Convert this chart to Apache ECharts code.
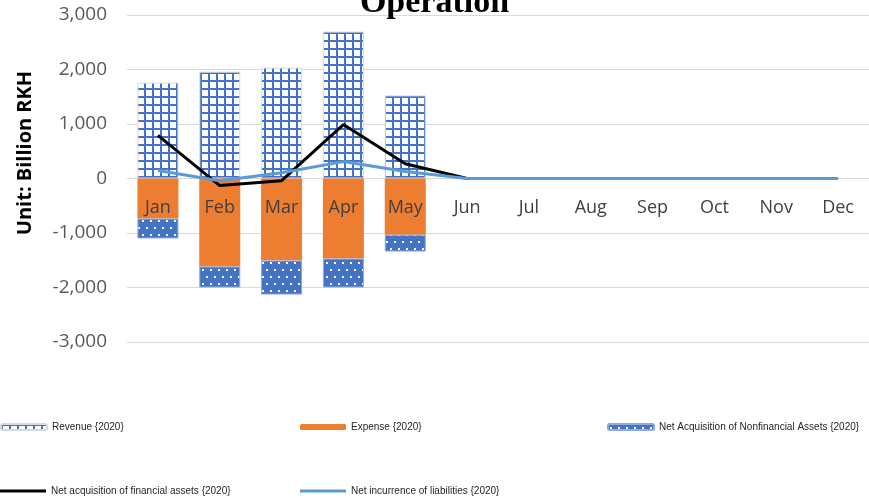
<!DOCTYPE html>
<html>
<head>
<meta charset="utf-8">
<script src="https://cdn.jsdelivr.net/npm/echarts@6/dist/echarts.min.js"></script>
<style>
  html, body { margin: 0; padding: 0; background: #fff; }
  #main { width: 869px; height: 498px; }
</style>
</head>
<body>
<div id="main"></div>
<script>
var months = ['Jan', 'Feb', 'Mar', 'Apr', 'May', 'Jun', 'Jul', 'Aug', 'Sep', 'Oct', 'Nov', 'Dec'];
var revenue = [1760, 1960, 2035, 2695, 1525, null, null, null, null, null, null, null];
var expense = [-735, -1615, -1505, -1470, -1030, null, null, null, null, null, null, null];
var nonFinancial = [-365, -385, -625, -530, -310, null, null, null, null, null, null, null];
var financialAssets = [790, -130, -40, 990, 270, 0, 0, 0, 0, 0, 0, 0];
var liabilities = [145, -40, 105, 310, 130, 0, 0, 0, 0, 0, 0, 0];
var yTicks = [-3000, 3000, 1000]; // min, max, step

// patterns like the excel fills
function gridPattern() {
    var c = document.createElement('canvas');
    c.width = 8; c.height = 8;
    var ctx = c.getContext('2d');
    ctx.fillStyle = '#fff';
    ctx.fillRect(0, 0, 8, 8);
    ctx.fillStyle = '#4472C4';
    ctx.fillRect(0, 0, 2, 8);
    ctx.fillRect(0, 0, 8, 2);
    return c;
}
function dotPattern() {
    var c = document.createElement('canvas');
    c.width = 8; c.height = 14;
    var ctx = c.getContext('2d');
    ctx.fillStyle = '#4472C4';
    ctx.fillRect(0, 0, 8, 14);
    ctx.fillStyle = '#fff';
    ctx.fillRect(2, 3, 2, 2);
    ctx.fillRect(6, 10, 2, 2);
    return c;
}

var chart = echarts.init(document.getElementById('main'));
var legendText = { fontSize: 10, color: '#262626', fontFamily: 'Liberation Sans' };
function oneLegend(name, left, top, lineIcon) {
    return {
        data: [lineIcon ? { name: name, icon: 'rect' } : name],
        left: left, top: top, itemWidth: 46, itemHeight: lineIcon ? 3 : 6,
        textStyle: legendText, selectedMode: false, padding: 0
    };
}

chart.setOption({
    animation: false,
    title: {
        text: 'Operation',
        left: 'center',
        top: -19,
        textStyle: { fontFamily: 'Liberation Serif', fontSize: 34, fontWeight: 'bold', color: '#000' }
    },
    graphic: [{
        type: 'text', x: 25, y: 153, rotation: Math.PI / 2,
        style: {
            text: 'Unit: Billion RKH', align: 'center', verticalAlign: 'middle',
            font: 'bold 20px "Open Sans"', fill: '#000'
        }
    }],
    legend: [
        oneLegend('Revenue {2020}', 0, 422),
        oneLegend('Expense {2020}', 300, 422),
        oneLegend('Net Acquisition of Nonfinancial Assets {2020}', 607, 422),
        oneLegend('Net acquisition of financial assets {2020}', 0, 486, true),
        oneLegend('Net incurrence of liabilities {2020}', 300, 486, true)
    ],
    grid: { left: 127, right: 0, top: 15, bottom: 156 },
    xAxis: {
        type: 'category',
        data: months,
        z: 10,
        axisLine: { show: false, onZero: false },
        axisTick: { show: false },
        // labels sit just under the zero line like in excel
        axisLabel: { margin: -143, fontSize: 18, color: '#404040', fontFamily: 'Open Sans' }
    },
    yAxis: {
        type: 'value',
        min: yTicks[0], max: yTicks[1], interval: yTicks[2],
        axisLine: { show: false },
        axisTick: { show: false },
        splitLine: { lineStyle: { color: '#d9d9d9', width: 1 } },
        axisLabel: {
            margin: 20, fontSize: 19, color: '#595959', fontFamily: 'Open Sans',
            formatter: function (v) { return v.toLocaleString('en-US'); }
        }
    },
    series: [
        {
            name: 'Revenue {2020}', type: 'bar', stack: 'a', barWidth: 41, data: revenue,
            itemStyle: { color: { image: gridPattern(), repeat: 'repeat' }, borderColor: '#d9d9d9', borderWidth: 1 }
        },
        {
            name: 'Expense {2020}', type: 'bar', stack: 'a', barWidth: 41, data: expense,
            itemStyle: { color: '#ED7D31' }
        },
        {
            name: 'Net Acquisition of Nonfinancial Assets {2020}', type: 'bar', stack: 'a', barWidth: 41, data: nonFinancial,
            itemStyle: { color: { image: dotPattern(), repeat: 'repeat' }, borderColor: '#8faadc', borderWidth: 1 }
        },
        {
            name: 'Net acquisition of financial assets {2020}', type: 'line', data: financialAssets,
            symbol: 'none', lineStyle: { color: '#000', width: 3 }, itemStyle: { color: '#000' }, z: 5
        },
        {
            name: 'Net incurrence of liabilities {2020}', type: 'line', data: liabilities,
            symbol: 'none', lineStyle: { color: '#5B9BD5', width: 3 }, itemStyle: { color: '#5B9BD5' }, z: 6
        }
    ]
});
</script>
</body>
</html>
